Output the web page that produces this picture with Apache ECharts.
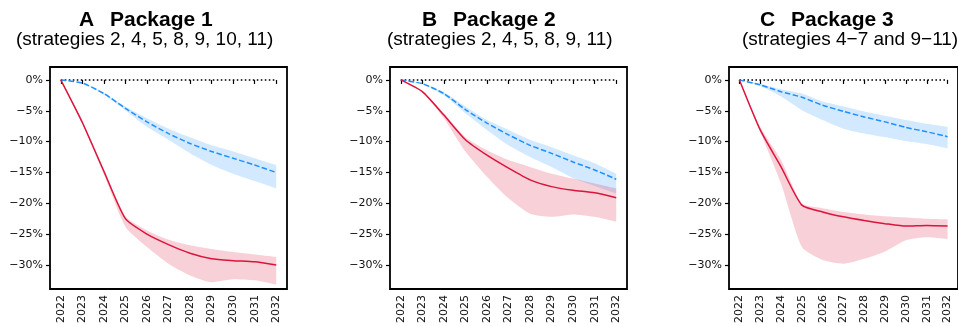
<!DOCTYPE html>
<html>
<head>
<meta charset="utf-8">
<script src="https://cdn.jsdelivr.net/npm/echarts@6/dist/echarts.min.js"></script>
<style>
html,body{margin:0;padding:0;background:#fff;}
#c{width:958px;height:326px;}
</style>
</head>
<body>
<div id="c"></div>
<script>
// ---- data ----
const years = ['2022','2023','2024','2025','2026','2027','2028','2029','2030','2031','2032'];
const yTicks = [-30, -25, -20, -15, -10, -5, 0];
const zeroLine = [0,0,0,0,0,0,0,0,0,0,0];

const titles = ['A', 'B', 'C'];
const titleNames = ['Package 1', 'Package 2', 'Package 3'];
const subtitles = ['(strategies 2, 4, 5, 8, 9, 10, 11)', '(strategies 2, 4, 5, 8, 9, 11)', '(strategies 4\u22127 and 9\u221211)'];

// Panel A
const redA    = [0, -6.9, -14.8, -22.5, -25.0, -26.7, -28.1, -29.0, -29.3, -29.5, -30.0];
const redAHi  = [0, -6.6, -14.4, -22.1, -24.4, -25.9, -26.8, -27.4, -27.9, -28.3, -28.7];
const redALo  = [0, -7.2, -15.3, -23.8, -27.1, -29.8, -31.7, -32.8, -32.3, -32.5, -33.2];
const blueA   = [0, -0.5, -2.2, -4.6, -6.8, -8.7, -10.3, -11.6, -12.7, -13.8, -15.0];
const blueAHi = [0, -0.5, -2.1, -4.3, -6.2, -7.9, -9.3, -10.6, -11.6, -12.7, -13.8];
const blueALo = [0, -0.5, -2.4, -4.9, -7.6, -9.7, -11.9, -13.8, -15.2, -16.4, -17.6];

// Panel B
const redB    = [0, -1.9, -5.7, -9.7, -12.2, -14.3, -16.2, -17.3, -17.9, -18.3, -19.1];
const redBHi  = [0, -1.8, -5.4, -9.3, -11.4, -13.0, -14.1, -15.2, -16.0, -16.8, -17.6];
const redBLo  = [0, -2.0, -6.2, -11.6, -15.7, -19.2, -21.7, -22.2, -21.8, -22.2, -23.0];
const blueB   = [0, -0.6, -2.2, -4.8, -7.0, -8.9, -10.6, -11.9, -13.3, -14.6, -16.1];
const blueBHi = [0, -0.5, -2.0, -4.3, -6.5, -8.1, -9.7, -10.9, -12.2, -13.5, -15.2];
const blueBLo = [0, -0.7, -2.5, -5.4, -8.1, -10.6, -12.5, -14.1, -15.9, -17.2, -18.4];

// Panel C
const redC    = [0, -8.1, -14.1, -20.3, -21.4, -22.2, -22.8, -23.3, -23.7, -23.6, -23.7];
const redCHi  = [0, -7.6, -13.0, -20.0, -20.8, -21.4, -21.8, -22.1, -22.3, -22.5, -22.6];
const redCLo  = [0, -8.4, -16.8, -27.1, -29.2, -29.8, -29.0, -27.8, -26.0, -25.5, -25.8];
const blueC   = [0, -0.8, -1.9, -2.8, -4.1, -5.1, -6.0, -6.8, -7.7, -8.4, -9.2];
const blueCHi = [0, -0.6, -1.5, -2.2, -3.5, -4.3, -5.1, -5.8, -6.5, -7.1, -7.6];
const blueCLo = [0, -1.0, -2.7, -4.9, -6.5, -7.9, -8.7, -9.3, -9.9, -10.4, -11.1];

// ---- chart ----
const panels = [
  {red: redA, redHi: redAHi, redLo: redALo, blue: blueA, blueHi: blueAHi, blueLo: blueALo},
  {red: redB, redHi: redBHi, redLo: redBLo, blue: blueB, blueHi: blueBHi, blueLo: blueBLo},
  {red: redC, redHi: redCHi, redLo: redCLo, blue: blueC, blueHi: blueCHi, blueLo: blueCLo}
];
const gridLefts = [50, 390, 729];
const titleLefts = [79, 422, 760];
const subLefts = [16, 387, 742];

const RED = '#dc143c';
const BLUE = '#1e90ff';
const SM = 0.2;
const TICKFONT = '"DejaVu Sans", sans-serif';
const TITLEFONT = '"Liberation Sans", Arial, sans-serif';

const grids = [], xAxes = [], yAxes = [], series = [], graphics = [];

panels.forEach((p, i) => {
  grids.push({left: gridLefts[i], top: 67, width: 237, height: 222, show: true,
    borderColor: '#000', borderWidth: 1.8, backgroundColor: 'transparent', containLabel: false});
  xAxes.push({type: 'category', gridIndex: i, data: years, boundaryGap: true,
    axisLine: {show: false},
    axisTick: {show: true, alignWithLabel: true, length: 4, lineStyle: {color: '#000', width: 1.2}},
    axisLabel: {rotate: 90, interval: 0, fontSize: 11, fontFamily: TICKFONT, color: '#111', margin: 6},
    splitLine: {show: false}});
  yAxes.push({type: 'value', gridIndex: i, min: -33.9, max: 2.1,
    axisLine: {show: false},
    axisTick: {show: true, length: 4, customValues: yTicks, lineStyle: {color: '#000', width: 1.2}},
    axisLabel: {customValues: yTicks, fontSize: 11, fontFamily: TICKFONT, color: '#111', margin: 7,
      formatter: v => (v < 0 ? '\u2212' + Math.abs(v) : String(v)) + '%'},
    splitLine: {show: false}});

  const band = (lo, hi, color, name) => {
    series.push({type: 'line', xAxisIndex: i, yAxisIndex: i, stack: name, stackStrategy: 'all',
      data: lo, symbol: 'none', smooth: SM, lineStyle: {opacity: 0}, silent: true, z: 1});
    series.push({type: 'line', xAxisIndex: i, yAxisIndex: i, stack: name, stackStrategy: 'all',
      data: hi.map((v, k) => +(v - lo[k]).toFixed(3)), symbol: 'none', smooth: SM,
      lineStyle: {opacity: 0}, areaStyle: {color: color, opacity: 1}, silent: true, z: 1});
  };
  band(p.blueLo, p.blueHi, 'rgba(30,144,255,0.2)', 'blue' + i);
  band(p.redLo, p.redHi, 'rgba(220,20,60,0.2)', 'red' + i);

  series.push({type: 'line', xAxisIndex: i, yAxisIndex: i, data: zeroLine, symbol: 'none',
    lineStyle: {color: '#000', width: 1.6, type: [1.6, 2.4]}, z: 3});
  series.push({type: 'line', xAxisIndex: i, yAxisIndex: i, data: p.blue, symbol: 'none', smooth: SM,
    lineStyle: {color: BLUE, width: 1.5, type: [5.5, 2.4]}, z: 4});
  series.push({type: 'line', xAxisIndex: i, yAxisIndex: i, data: p.red, symbol: 'none', smooth: SM,
    lineStyle: {color: RED, width: 1.5}, z: 5});

  graphics.push({type: 'text', x: titleLefts[i], y: 20, style: {
    text: '{l|' + titles[i] + '} {t|' + titleNames[i] + '}',
    verticalAlign: 'middle', align: 'left',
    rich: {
      l: {fontFamily: TITLEFONT, fontWeight: 'bold', fontSize: 21, fill: '#000', padding: [0, 10, 0, 0]},
      t: {fontFamily: TITLEFONT, fontWeight: 'bold', fontSize: 21, fill: '#000'}
    },
    fontFamily: TITLEFONT, fontWeight: 'bold', fontSize: 21, fill: '#000'}});
  graphics.push({type: 'text', x: subLefts[i], y: 39.5, style: {
    text: subtitles[i], verticalAlign: 'middle', align: 'left',
    fontFamily: TITLEFONT, fontSize: 19, fill: '#000'}});
});

const chart = echarts.init(document.getElementById('c'), null, {renderer: 'canvas'});
chart.setOption({
  animation: false,
  backgroundColor: '#fff',
  grid: grids, xAxis: xAxes, yAxis: yAxes, series: series,
  graphic: graphics,
  tooltip: {show: false}
});
</script>
</body>
</html>
